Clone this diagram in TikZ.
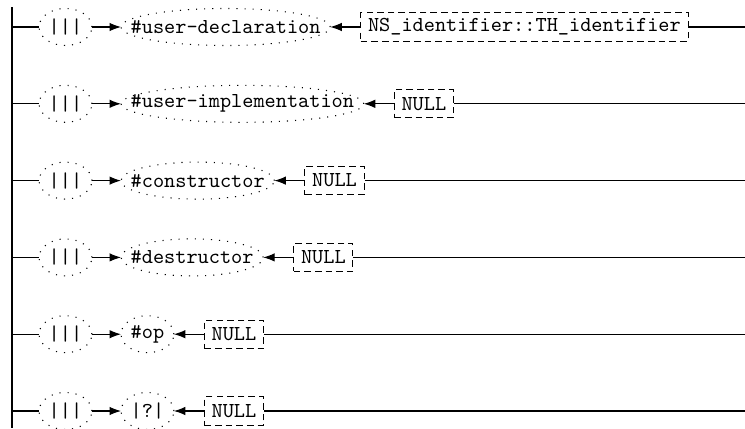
\documentclass[tikz,border=0pt]{standalone}
\usetikzlibrary{arrows.meta,calc,positioning}
\begin{document}
\begin{tikzpicture}[x=0.47pt,y=-0.47pt,
  line width=0.5pt,
  txt/.style={font=\ttfamily, inner xsep=4.3pt, inner ysep=0pt, minimum height=16.9pt, anchor=west},
  dotsty/.style={line width=0.5pt, dash pattern=on 0.5pt off 3.3pt},
  boxsty/.style={draw, font=\ttfamily, dash pattern=on 3.1pt off 1.9pt, inner xsep=3.4pt, inner ysep=0pt, minimum height=13.2pt, right=14.1pt of #1},
  arr/.style={-{Latex[length=5.4pt,width=4pt]}},
  rail/.style={}]
\useasboundingbox (0,0) rectangle (745,428);
\coordinate (top) at (12,7);
\coordinate (bot) at (12,428);
\coordinate (rend) at (745,0);
\draw[rail] (top) -- (bot);
\newcommand\ovalaround[1]{\draw[dotsty] let \p1=($(#1.east)-(#1.west)$), \p2=($(#1.north)-(#1.south)$) in (#1.center) ellipse [x radius=0.5*\x1, y radius=0.5*\y2];}
\foreach \i/\name/\val in {1/\#user-declaration/NS\_identifier::TH\_identifier,
                          2/\#user-implementation/NULL,
                          3/\#constructor/NULL,
                          4/\#destructor/NULL,
                          5/\#op/NULL,
                          6/|?|/NULL}{
  \pgfmathsetmacro\yy{27+76.8*(\i-1)}
  \node[txt] (p\i) at (39,\yy) {|||};
  \node[txt] (e\i) at (121,\yy) {\name};
  \node[boxsty=e\i] (b\i) {\val};
  \ovalaround{p\i}
  \ovalaround{e\i}
  \draw[rail] (p\i.west -| top) -- (p\i.west);
  \draw[arr] (p\i.east) -- (e\i.west);
  \draw[arr] (b\i.west) -- (e\i.east);
  \draw[rail] (b\i.east) -- (b\i.east -| rend);
}
\end{tikzpicture}
\end{document}
